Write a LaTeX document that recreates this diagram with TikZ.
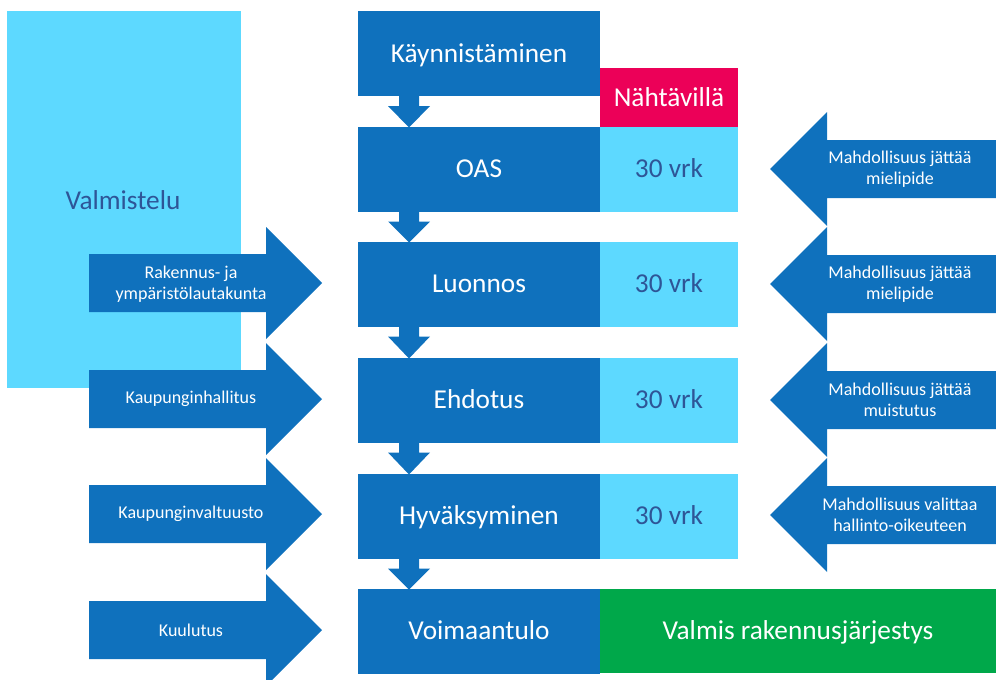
\documentclass[tikz,border=0pt]{standalone}
\usepackage{fontspec}
\setmainfont{Carlito}
\usetikzlibrary{calc}
\definecolor{dblue}{HTML}{0F71BD}
\definecolor{lcyan}{HTML}{5DD9FF}
\definecolor{pinkc}{HTML}{EC0058}
\definecolor{greenc}{HTML}{00A84A}
\definecolor{txtblue}{HTML}{2E5597}
\newcommand\flowdown[2]{%
  \fill[dblue] ([xshift=-80pt]#1.south) -- ([xshift=-80pt,yshift=-10pt]#1.south)
    -- ([xshift=-91pt,yshift=-10pt]#1.south) -- ([xshift=-70pt,yshift=-1pt]#2.north)
    -- ([xshift=-49pt,yshift=-10pt]#1.south) -- ([xshift=-60pt,yshift=-10pt]#1.south)
    -- ([xshift=-60pt]#1.south) -- cycle;}
\newcommand\rightblock[1]{%
  \fill[dblue] (89,#1-29) -- (266,#1-29) -- (266,#1-56) -- (322,#1) -- (266,#1+56)
    -- (266,#1+29) -- (89,#1+29) -- cycle;}
\newcommand\leftblock[1]{%
  \fill[dblue] (996,#1-29) -- (827,#1-29) -- (827,#1-57) -- (770,#1) -- (827,#1+57)
    -- (827,#1+29) -- (996,#1+29) -- cycle;}
\tikzset{
  bigfont/.style={font=\fontsize{27.3}{32}\selectfont, text height=17.6pt, text depth=0pt},
  stage/.style={fill=dblue, text=white, minimum width=242pt, minimum height=85pt,
    inner sep=0pt, outer sep=0pt, bigfont},
  period/.style={fill=lcyan, text=txtblue, minimum width=138pt, minimum height=85pt,
    inner sep=0pt, outer sep=0pt, bigfont},
  side/.style={text=white, align=center, inner sep=0pt, font=\fontsize{18}{21}\selectfont}
}
\begin{document}
\begin{tikzpicture}[x=1pt,y=-1pt]
\useasboundingbox (0,0) rectangle (996,680);
\clip (0,0) rectangle (996,680);
% Valmistelu
\node[fill=lcyan, minimum width=234pt, minimum height=377pt, inner sep=0pt, outer sep=0pt] (valm) at (124,199) {};
\node[text=txtblue, bigfont] (valmt) at (123,201) {Valmistelu};
% central stages
\node[stage] (kay) at (479,53.5) {Käynnistäminen};
\node[stage] (oas) at (479,169) {OAS};
\node[stage] (luo) at (479,284) {Luonnos};
\node[stage] (ehd) at (479,400) {Ehdotus};
\node[stage] (hyv) at (479,516) {Hyväksyminen};
\node[stage] (voi) at (479,631) {Voimaantulo};
\flowdown{kay}{oas}
\flowdown{oas}{luo}
\flowdown{luo}{ehd}
\flowdown{ehd}{hyv}
\flowdown{hyv}{voi}
% periods
\node[fill=pinkc, text=white, minimum width=138pt, minimum height=59pt, inner sep=0pt, outer sep=0pt,
  bigfont] (naht) at (669,97.5) {Nähtävillä};
\node[period] (p1) at (669,169) {30 vrk};
\node[period] (p2) at (669,284) {30 vrk};
\node[period] (p3) at (669,400) {30 vrk};
\node[period] (p4) at (669,516) {30 vrk};
\node[fill=greenc, text=white, minimum width=396pt, minimum height=84pt, inner sep=0pt, outer sep=0pt,
  bigfont] (valmis) at (798,631) {Valmis rakennusjärjestys};
% left arrows
\rightblock{283}
\rightblock{399}
\rightblock{514}
\rightblock{630}
\node[side] (l1) at (191,284) {Rakennus- ja\\ympäristölautakunta};
\node[side] (l2) at (191,399) {Kaupunginhallitus};
\node[side] (l3) at (191,514) {Kaupunginvaltuusto};
\node[side] (l4) at (191,630) {Kuulutus};
% right arrows
\leftblock{169}
\leftblock{284}
\leftblock{400}
\leftblock{515}
\node[side] (r1) at (900,169) {Mahdollisuus jättää\\mielipide};
\node[side] (r2) at (900,284) {Mahdollisuus jättää\\mielipide};
\node[side] (r3) at (900,400) {Mahdollisuus jättää\\muistutus};
\node[side] (r4) at (900,515) {Mahdollisuus valittaa\\hallinto-oikeuteen};
\end{tikzpicture}
\end{document}
